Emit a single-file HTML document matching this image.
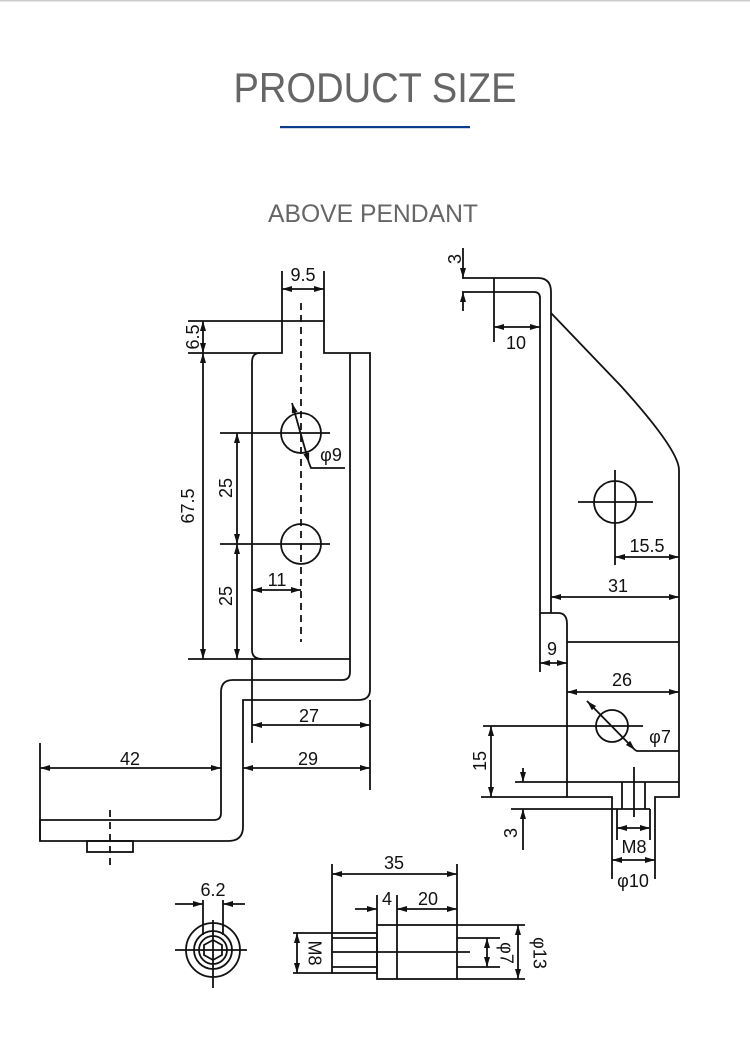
<!DOCTYPE html>
<html><head><meta charset="utf-8"><style>
html,body{margin:0;padding:0;background:#fff;}
svg{display:block;}
text{font-family:"Liberation Sans",sans-serif;}
</style></head><body>
<svg width="750" height="1050" viewBox="0 0 750 1050" xmlns="http://www.w3.org/2000/svg">
<defs>
<marker id="a" viewBox="0 0 10 6" refX="10" refY="3" markerWidth="10" markerHeight="6" markerUnits="userSpaceOnUse" orient="auto-start-reverse"><path d="M0,0 L10,3 L0,6 z" fill="#111"/></marker>
</defs>
<rect x="0" y="0" width="750" height="1.5" fill="#ccc"/>
<text x="375" y="102" text-anchor="middle" font-size="42" fill="#666" textLength="283" lengthAdjust="spacingAndGlyphs">PRODUCT SIZE</text>
<rect x="280" y="126" width="190" height="2.2" fill="#0d3b8c"/>
<text x="373" y="222" text-anchor="middle" font-size="25" fill="#666" textLength="210" lengthAdjust="spacingAndGlyphs">ABOVE PENDANT</text>

<g stroke="#111" stroke-width="1.8" fill="none">
<!-- LEFT DRAWING -->
<path d="M260,353 L282,353 L282,321 L324,321 L324,353 L370,353 L370,690 Q370,700 358,700 L243,700 L243,827 Q243,841 228,841 L40,841 L40,820 L214,820 Q221,820 221,813 L221,692 Q221,680 233,680 L342,680 Q350,680 350,672 L350,353"/>
<path d="M260,353 Q252,353 252,362 L252,650 Q252,659 262,659 L350,659"/>
<line x1="252" y1="659" x2="252" y2="743"/>
<line x1="282" y1="271" x2="282" y2="321"/><line x1="324" y1="271" x2="324" y2="321"/>
<line x1="282" y1="289" x2="324" y2="289" marker-start="url(#a)" marker-end="url(#a)"/>
<line x1="188" y1="321" x2="282" y2="321"/><line x1="188" y1="353" x2="260" y2="353"/><line x1="188" y1="659" x2="262" y2="659"/>
<line x1="203" y1="321" x2="203" y2="353" marker-start="url(#a)" marker-end="url(#a)"/>
<line x1="203" y1="353" x2="203" y2="659" marker-start="url(#a)" marker-end="url(#a)"/>
<circle cx="301" cy="433" r="20"/><circle cx="301" cy="544" r="20"/>
<line x1="220" y1="433" x2="330" y2="433"/><line x1="220" y1="544" x2="330" y2="544"/>
<line x1="237" y1="433" x2="237" y2="544" marker-start="url(#a)" marker-end="url(#a)"/>
<line x1="237" y1="544" x2="237" y2="659" marker-start="url(#a)" marker-end="url(#a)"/>
<line x1="301" y1="303" x2="301" y2="642" stroke-dasharray="7,5"/>
<line x1="252" y1="590" x2="301" y2="590" marker-start="url(#a)" marker-end="url(#a)"/>
<line x1="292" y1="403" x2="309" y2="463" marker-start="url(#a)" marker-end="url(#a)"/>
<polyline points="309,463 311,468 345,468"/>
<line x1="252" y1="725" x2="370" y2="725" marker-start="url(#a)" marker-end="url(#a)"/>
<line x1="370" y1="700" x2="370" y2="790"/>
<line x1="243" y1="768" x2="370" y2="768" marker-start="url(#a)" marker-end="url(#a)"/>
<line x1="40" y1="743" x2="40" y2="841"/>
<line x1="40" y1="768" x2="221" y2="768" marker-start="url(#a)" marker-end="url(#a)"/>
<rect x="87" y="841" width="46" height="11"/>
<line x1="110" y1="810" x2="110" y2="867" stroke-dasharray="7,5"/>

<!-- RIGHT DRAWING -->
<path d="M462,278 L538,278 Q551,278 551,292 L551,613"/>
<path d="M462,292 L534,292 Q540,292 540,298 L540,672"/>
<path d="M551,313 L620,385 Q679,450 679,470 L679,797 L655,797 L655,879"/>
<path d="M540,613 L558,613 Q567,613 567,624 L567,797 L612,797 L612,879"/>
<line x1="567" y1="642" x2="679" y2="642"/>
<line x1="463" y1="248" x2="463" y2="278" marker-end="url(#a)"/>
<line x1="463" y1="311" x2="463" y2="292" marker-end="url(#a)"/>
<line x1="494" y1="278" x2="494" y2="342"/>
<line x1="494" y1="327" x2="540" y2="327" marker-start="url(#a)" marker-end="url(#a)"/>
<circle cx="615" cy="502" r="21"/>
<line x1="578" y1="502" x2="653" y2="502"/><line x1="615" y1="470" x2="615" y2="565"/>
<line x1="615" y1="557" x2="679" y2="557" marker-start="url(#a)" marker-end="url(#a)"/>
<line x1="551" y1="597" x2="679" y2="597" marker-start="url(#a)" marker-end="url(#a)"/>
<line x1="540" y1="663" x2="567" y2="663" marker-start="url(#a)" marker-end="url(#a)"/>
<line x1="567" y1="692" x2="679" y2="692" marker-start="url(#a)" marker-end="url(#a)"/>
<circle cx="612" cy="726" r="16"/>
<line x1="483" y1="726" x2="643" y2="726"/>
<line x1="587" y1="701" x2="635" y2="750" marker-start="url(#a)" marker-end="url(#a)"/>
<polyline points="635,750 637,751 679,751"/>
<line x1="481" y1="797" x2="567" y2="797"/>
<line x1="491" y1="726" x2="491" y2="797" marker-start="url(#a)" marker-end="url(#a)"/>
<line x1="515" y1="782" x2="679" y2="782"/>
<line x1="511" y1="809" x2="650" y2="809"/>
<line x1="622" y1="782" x2="622" y2="809"/><line x1="645" y1="782" x2="645" y2="809"/>
<line x1="634" y1="767" x2="634" y2="817"/>
<line x1="523" y1="768" x2="523" y2="782" marker-end="url(#a)"/>
<line x1="523" y1="850" x2="523" y2="809" marker-end="url(#a)"/>
<line x1="617" y1="809" x2="617" y2="840"/><line x1="650" y1="809" x2="650" y2="840"/>
<line x1="617" y1="828" x2="650" y2="828" marker-start="url(#a)" marker-end="url(#a)"/>
<line x1="612" y1="860" x2="655" y2="860" marker-start="url(#a)" marker-end="url(#a)"/>

<!-- END VIEW -->
<circle cx="213" cy="950" r="27"/><circle cx="213" cy="950" r="19"/><circle cx="213" cy="950" r="14"/>
<polygon points="213,940 222,945 222,955 213,960 204,955 204,945"/>
<line x1="175" y1="950" x2="247" y2="950"/><line x1="213" y1="920" x2="213" y2="988"/>
<line x1="203" y1="900" x2="203" y2="935"/><line x1="223" y1="900" x2="223" y2="935"/>
<line x1="175" y1="904" x2="203" y2="904" marker-end="url(#a)"/>
<line x1="245" y1="904" x2="223" y2="904" marker-end="url(#a)"/>

<!-- SIDE VIEW -->
<rect x="332" y="933" width="45" height="40"/>
<line x1="332" y1="938" x2="377" y2="938"/><line x1="332" y1="967" x2="377" y2="967"/>
<rect x="377" y="925" width="80" height="54"/>
<line x1="397" y1="895" x2="397" y2="979"/>
<line x1="377" y1="895" x2="377" y2="925"/>
<line x1="457" y1="938" x2="500" y2="938"/><line x1="457" y1="967" x2="500" y2="967"/>
<line x1="331" y1="952" x2="470" y2="952"/>
<line x1="332" y1="864" x2="332" y2="933"/><line x1="457" y1="864" x2="457" y2="925"/>
<line x1="332" y1="874" x2="457" y2="874" marker-start="url(#a)" marker-end="url(#a)"/>
<line x1="355" y1="909" x2="377" y2="909" marker-end="url(#a)"/>
<line x1="397" y1="909" x2="457" y2="909" marker-start="url(#a)" marker-end="url(#a)"/>
<line x1="293" y1="933" x2="332" y2="933"/><line x1="293" y1="973" x2="332" y2="973"/>
<line x1="297" y1="933" x2="297" y2="973" marker-start="url(#a)" marker-end="url(#a)"/>
<line x1="487" y1="938" x2="487" y2="967" marker-start="url(#a)" marker-end="url(#a)"/>
<line x1="457" y1="925" x2="525" y2="925"/><line x1="457" y1="979" x2="525" y2="979"/>
<line x1="518" y1="925" x2="518" y2="979" marker-start="url(#a)" marker-end="url(#a)"/>
</g>

<g font-size="18" fill="#111" text-anchor="middle">
<text x="303" y="281">9.5</text>
<text x="194" y="337" transform="rotate(-90 194 337)" dominant-baseline="middle">6.5</text>
<text x="189" y="506" transform="rotate(-90 189 506)" dominant-baseline="middle">67.5</text>
<text x="227" y="488" transform="rotate(-90 227 488)" dominant-baseline="middle">25</text>
<text x="227" y="596" transform="rotate(-90 227 596)" dominant-baseline="middle">25</text>
<text x="277" y="586">11</text>
<text x="331" y="461">φ9</text>
<text x="309" y="722">27</text>
<text x="308" y="765">29</text>
<text x="130" y="765">42</text>
<text x="456" y="259" transform="rotate(-90 456 259)" dominant-baseline="middle">3</text>
<text x="516" y="349">10</text>
<text x="647" y="552">15.5</text>
<text x="618" y="592">31</text>
<text x="552" y="655">9</text>
<text x="622" y="686">26</text>
<text x="660" y="743">φ7</text>
<text x="481" y="761" transform="rotate(-90 481 761)" dominant-baseline="middle">15</text>
<text x="512" y="833" transform="rotate(-90 512 833)" dominant-baseline="middle">3</text>
<text x="634" y="853">M8</text>
<text x="633" y="887">φ10</text>
<text x="213" y="896">6.2</text>
<text x="394" y="869">35</text>
<text x="387" y="905">4</text>
<text x="428" y="905">20</text>
<text x="313" y="953" transform="rotate(90 313 953)" dominant-baseline="middle">M8</text>
<text x="505" y="953" transform="rotate(90 505 953)" dominant-baseline="middle">φ7</text>
<text x="538" y="953" transform="rotate(90 538 953)" dominant-baseline="middle">φ13</text>
</g>
</svg>
</body></html>
